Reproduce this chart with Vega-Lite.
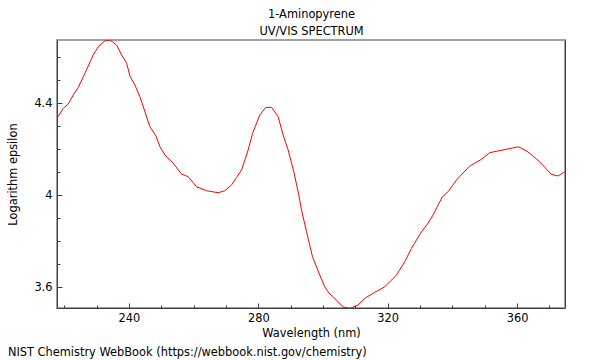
{
  "$schema": "https://vega.github.io/schema/vega-lite/v6.json",
  "width": 508,
  "height": 268,
  "autosize": "none",
  "padding": {"left": 57, "top": 40, "right": 35, "bottom": 52},
  "background": "white",
  "config": {
    "font": "DejaVu Sans",
    "view": {"stroke": "#a0a0a0", "strokeWidth": 2},
    "axis": {"labelFont": "DejaVu Sans", "titleFont": "DejaVu Sans", "labelFontSize": 11.4, "titleFontSize": 11.4, "titleFontWeight": "normal", "labelColor": "#000", "titleColor": "#000", "grid": false, "domainColor": "#404040", "domainWidth": 1, "tickColor": "#404040"}
  },
  "title": {"text": "NIST Chemistry WebBook (https://webbook.nist.gov/chemistry)", "orient": "bottom", "anchor": "start", "frame": "bounds", "fontSize": 11.4, "fontWeight": "normal", "font": "DejaVu Sans", "color": "#000", "offset": 8},
  "data": {"values": [
    {"nm": 217.76, "v": 4.334}, {"nm": 219.71, "v": 4.377}, {"nm": 221.25, "v": 4.396}, {"nm": 222.79, "v": 4.435},
    {"nm": 224.34, "v": 4.468}, {"nm": 225.88, "v": 4.514}, {"nm": 227.43, "v": 4.561}, {"nm": 228.97, "v": 4.609},
    {"nm": 230.52, "v": 4.645}, {"nm": 232.59, "v": 4.670}, {"nm": 234.13, "v": 4.674}, {"nm": 236.2, "v": 4.652},
    {"nm": 237.74, "v": 4.609}, {"nm": 239.29, "v": 4.573}, {"nm": 240.31, "v": 4.517}, {"nm": 241.85, "v": 4.478},
    {"nm": 243.4, "v": 4.427}, {"nm": 244.94, "v": 4.362}, {"nm": 246.49, "v": 4.297}, {"nm": 248.34, "v": 4.257},
    {"nm": 249.58, "v": 4.21}, {"nm": 251.12, "v": 4.174}, {"nm": 253.68, "v": 4.138}, {"nm": 256.28, "v": 4.091},
    {"nm": 258.32, "v": 4.08}, {"nm": 260.91, "v": 4.036}, {"nm": 264.0, "v": 4.019}, {"nm": 267.58, "v": 4.01},
    {"nm": 269.65, "v": 4.019}, {"nm": 271.72, "v": 4.044}, {"nm": 273.27, "v": 4.077}, {"nm": 274.81, "v": 4.109},
    {"nm": 276.85, "v": 4.196}, {"nm": 278.21, "v": 4.268}, {"nm": 280.46, "v": 4.348}, {"nm": 282.32, "v": 4.381},
    {"nm": 284.08, "v": 4.381}, {"nm": 286.12, "v": 4.341}, {"nm": 287.66, "v": 4.261}, {"nm": 289.21, "v": 4.196},
    {"nm": 290.97, "v": 4.101}, {"nm": 292.51, "v": 4.0}, {"nm": 293.35, "v": 3.935}, {"nm": 294.89, "v": 3.841},
    {"nm": 296.74, "v": 3.732}, {"nm": 299.0, "v": 3.652}, {"nm": 300.54, "v": 3.601}, {"nm": 301.87, "v": 3.573},
    {"nm": 303.1, "v": 3.558}, {"nm": 306.19, "v": 3.514}, {"nm": 308.26, "v": 3.507}, {"nm": 310.82, "v": 3.522},
    {"nm": 312.89, "v": 3.551}, {"nm": 315.98, "v": 3.577}, {"nm": 319.07, "v": 3.601}, {"nm": 322.69, "v": 3.652},
    {"nm": 325.25, "v": 3.71}, {"nm": 327.32, "v": 3.768}, {"nm": 330.41, "v": 3.84}, {"nm": 332.45, "v": 3.877},
    {"nm": 334.0, "v": 3.913}, {"nm": 336.9, "v": 3.993}, {"nm": 338.63, "v": 4.014}, {"nm": 341.22, "v": 4.065},
    {"nm": 345.33, "v": 4.126}, {"nm": 348.94, "v": 4.155}, {"nm": 351.5, "v": 4.184}, {"nm": 355.61, "v": 4.196},
    {"nm": 360.46, "v": 4.21}, {"nm": 363.33, "v": 4.188}, {"nm": 366.95, "v": 4.145}, {"nm": 370.56, "v": 4.09},
    {"nm": 372.6, "v": 4.083}, {"nm": 374.67, "v": 4.101}
  ]},
  "layer": [
    {
      "mark": {"type": "line", "color": "#ff0000", "strokeWidth": 1, "clip": true},
      "encoding": {
        "x": {"field": "nm", "type": "quantitative", "scale": {"domain": [217.76, 374.8], "nice": false, "zero": false},
          "axis": {"title": "Wavelength (nm)", "values": [220,230,240,250,260,270,280,290,300,310,320,330,340,350,360,370],
            "labelExpr": "datum.value % 40 === 0 ? datum.label : ''", "format": "d",
            "tickSize": {"condition": {"test": "datum.value % 40 === 0", "value": -5}, "value": -3},
            "labelPadding": 9, "titlePadding": 4, "labelFlush": false}},
        "y": {"field": "v", "type": "quantitative", "scale": {"domain": [3.509, 4.674], "nice": false, "zero": false},
          "axis": {"title": "Logarithm epsilon", "values": [3.6,3.7,3.8,3.9,4.0,4.1,4.2,4.3,4.4,4.5,4.6],
            "format": "~g", "labelExpr": "round(datum.value*10) % 4 === 0 ? datum.label : ''",
            "tickSize": {"condition": {"test": "round(datum.value*10) % 4 === 0", "value": -5}, "value": -3},
            "labelPadding": 10, "titlePadding": 15, "labelFlush": false}}
      }
    },
    {
      "mark": {"type": "point", "opacity": 0},
      "encoding": {
        "x": {"field": "nm", "type": "quantitative", "scale": {"domain": [217.76, 374.8], "nice": false, "zero": false},
          "axis": {"orient": "top", "title": ["1-Aminopyrene", "UV/VIS SPECTRUM"], "titleLineHeight": 17, "labels": false, "ticks": false, "domain": false, "titlePadding": 4}},
        "y": {"field": "v", "type": "quantitative", "scale": {"domain": [3.509, 4.674], "nice": false, "zero": false},
          "axis": {"orient": "right", "title": null, "labels": false, "ticks": false, "domain": true}}
      }
    }
  ],
  "resolve": {"scale": {"x": "independent", "y": "independent"}, "axis": {"x": "independent", "y": "independent"}}
}
